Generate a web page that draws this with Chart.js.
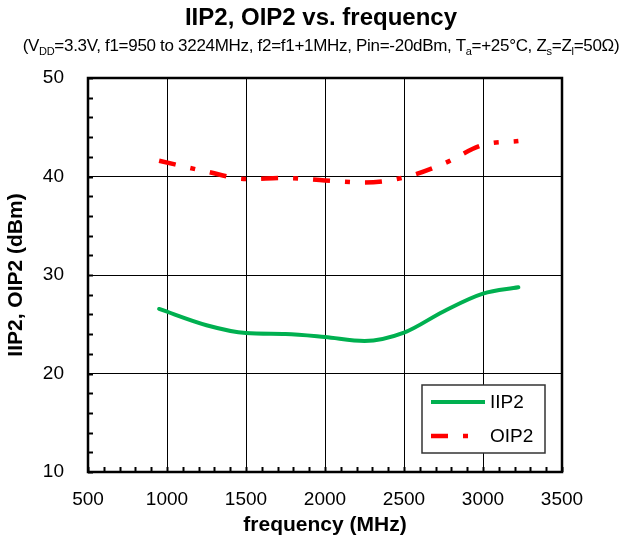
<!DOCTYPE html>
<html>
<head>
<meta charset="utf-8">
<script src="https://cdn.jsdelivr.net/npm/chart.js@4.4.0/dist/chart.umd.min.js"></script>
<style>
  body { margin: 0; background: #fff; }
  #wrap { position: relative; width: 642px; height: 544px; }
  #title { position: absolute; left: 0; width: 642px; top: 3px; text-align: center;
    font: bold 24px "Liberation Sans", Arial, sans-serif; color: #000; }
  #sub { position: absolute; left: 0; width: 642px; top: 36px; text-align: center; white-space: nowrap;
    font: 17px "Liberation Sans", Arial, sans-serif; color: #000; letter-spacing: -0.3px; }
  #sub sub { font-size: 11px; }
  canvas { position: absolute; left: 0; top: 0; }
</style>
</head>
<body>
<div id="wrap">
  <canvas id="chart" width="642" height="544"></canvas>
  <div id="title">IIP2, OIP2 vs. frequency</div>
  <div id="sub">(V<sub>DD</sub>=3.3V, f1=950 to 3224MHz, f2=f1+1MHz, Pin=-20dBm, T<sub>a</sub>=+25°C, Z<sub>s</sub>=Z<sub>l</sub>=50Ω)</div>
</div>
<script>
const freq = [950, 1250, 1500, 1750, 2000, 2250, 2500, 2750, 3000, 3224];
const iip2 = [26.55, 24.9, 24.1, 24.0, 23.7, 23.3, 24.15, 26.3, 28.1, 28.75];
const oip2 = [41.6, 40.5, 39.75, 39.85, 39.6, 39.4, 39.9, 41.3, 43.2, 43.6];

const xMajor = [500, 1000, 1500, 2000, 2500, 3000, 3500];
const yMajor = [10, 20, 30, 40, 50];

const FONT = '"Liberation Sans", Arial, sans-serif';

function points(ys) {
  return freq.map((f, i) => ({ x: f, y: ys[i] }));
}

// minor ticks, frame and legend box
const extras = {
  id: 'extras',
  afterDraw(chart) {
    const ctx = chart.ctx;
    const a = chart.chartArea;
    const xs = chart.scales.x, ys = chart.scales.y;
    ctx.save();
    ctx.strokeStyle = '#000';
    ctx.lineWidth = 2;
    for (let v = xMajor[0]; v <= xMajor[xMajor.length - 1]; v += 100) {
      const px = Math.round(xs.getPixelForValue(v)) + 0.5;
      ctx.beginPath(); ctx.moveTo(px, a.bottom); ctx.lineTo(px, a.bottom - 5); ctx.stroke();
    }
    for (let v = yMajor[0]; v <= yMajor[yMajor.length - 1]; v += 2) {
      const py = Math.round(ys.getPixelForValue(v)) + 0.5;
      ctx.beginPath(); ctx.moveTo(a.left, py); ctx.lineTo(a.left + 5, py); ctx.stroke();
    }
    ctx.lineWidth = 2.5;
    ctx.strokeRect(a.left, a.top, a.right - a.left, a.bottom - a.top);

    // legend
    const lx = a.left + 334, ly = a.top + 307, lw = 123, lh = 68;
    ctx.fillStyle = '#fff';
    ctx.fillRect(lx, ly, lw, lh);
    ctx.strokeStyle = '#333';
    ctx.lineWidth = 1.5;
    ctx.strokeRect(lx, ly, lw, lh);
    ctx.font = '19px ' + FONT;
    ctx.textBaseline = 'middle';
    chart.data.datasets.forEach((ds, i) => {
      const yy = ly + 17 + i * 34;
      const dash = ds.borderDash || [];
      const len = dash.length ? dash[0] + dash[1] + dash[2] : 54;
      ctx.strokeStyle = ds.borderColor;
      ctx.lineWidth = ds.borderWidth;
      ctx.setLineDash(dash);
      ctx.lineCap = 'butt';
      ctx.beginPath(); ctx.moveTo(lx + 9, yy); ctx.lineTo(lx + 9 + len, yy); ctx.stroke();
      ctx.setLineDash([]);
      ctx.fillStyle = '#000';
      ctx.fillText(ds.label, lx + 68, yy + 1);
    });
    ctx.restore();
  }
};

new Chart(document.getElementById('chart'), {
  type: 'line',
  data: {
    datasets: [
      { label: 'IIP2', data: points(iip2), borderColor: '#00b050', borderWidth: 4,
        pointRadius: 0, cubicInterpolationMode: 'monotone', fill: false, borderCapStyle: 'round' },
      { label: 'OIP2', data: points(oip2), borderColor: '#ff0000', borderWidth: 4.5,
        borderDash: [17, 15, 5, 15], borderCapStyle: 'butt',
        pointRadius: 0, cubicInterpolationMode: 'monotone', fill: false }
    ]
  },
  options: {
    responsive: false,
    animation: false,
    layout: { padding: { left: 0, right: 80, top: 78, bottom: 0 } },
    plugins: { legend: { display: false }, tooltip: { enabled: false } },
    scales: {
      x: {
        type: 'linear', min: 500, max: 3500,
        afterFit(s) { s.height = 72; },
        afterBuildTicks(s) { s.ticks = xMajor.map(v => ({ value: v })); },
        grid: { color: '#000', lineWidth: 1, drawTicks: false },
        border: { display: false },
        ticks: { color: '#000', padding: 16, font: { family: FONT, size: 19 },
          callback: v => String(v) },
        title: { display: true, text: 'frequency (MHz)', color: '#000',
          font: { family: FONT, size: 21, weight: 'bold' }, padding: { top: 0, bottom: 6 } }
      },
      y: {
        min: 10, max: 50,
        afterFit(s) { s.width = 88; },
        afterBuildTicks(s) { s.ticks = yMajor.map(v => ({ value: v })); },
        grid: { color: '#000', lineWidth: 1, drawTicks: false },
        border: { display: false },
        ticks: { color: '#000', padding: 24, font: { family: FONT, size: 19 },
          callback: v => String(v) },
        title: { display: true, text: 'IIP2, OIP2 (dBm)', color: '#000',
          font: { family: FONT, size: 21, weight: 'bold' }, padding: { top: 4, bottom: 0 } }
      }
    }
  },
  plugins: [extras]
});
</script>
</body>
</html>
